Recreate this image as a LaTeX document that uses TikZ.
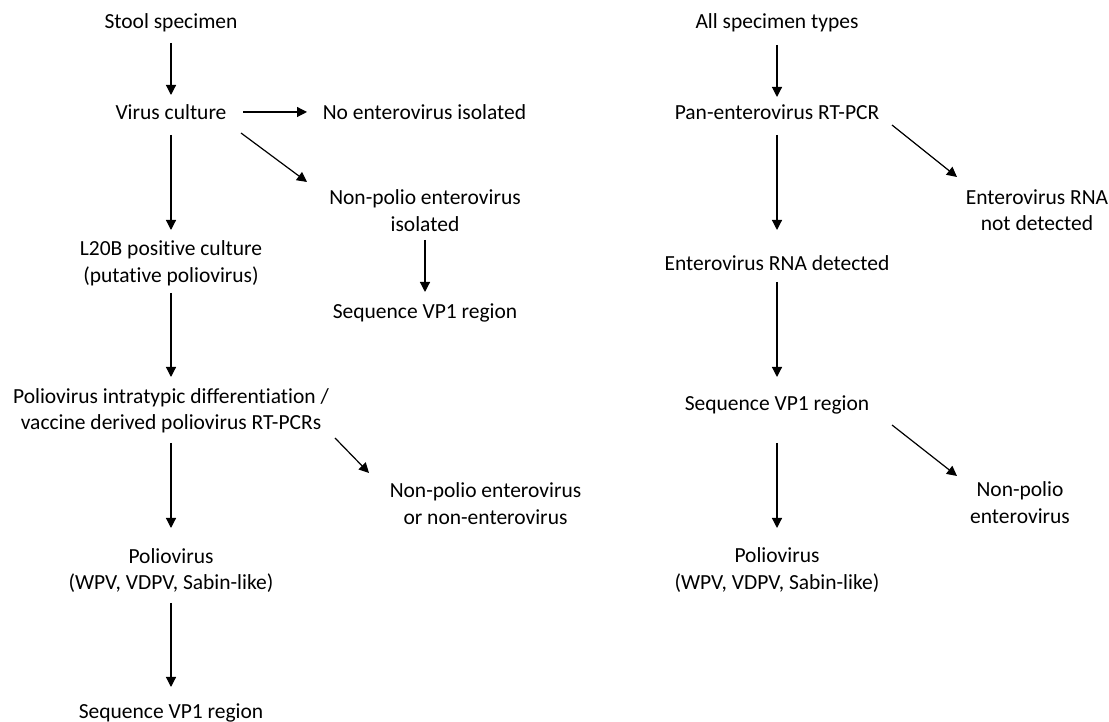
\documentclass[tikz,border=0pt]{standalone}
\usepackage{fontspec}
\setmainfont{Carlito}[Ligatures=NoCommon]
\usepackage{tikz}
\usetikzlibrary{arrows.meta}

\begin{document}
\begin{tikzpicture}[x=1pt,y=1pt,
  lbl/.style={align=center,inner sep=0pt,font=\fontsize{21.5}{26.5}\selectfont},
  arr/.style={line width=1.2pt,-{Triangle[length=10pt,width=10pt]}}]
\useasboundingbox (0,0) rectangle (1109,722);
% left column
\node[lbl] (stool) at (171,699) {Stool specimen};
\node[lbl] (virus) at (171,610) {Virus culture};
\node[lbl] (noev) at (424.5,610) {No enterovirus isolated};
\node[lbl] (npev) at (425,511.5) {Non-polio enterovirus\\isolated};
\node[lbl] (seqa) at (425,409) {Sequence VP1 region};
\node[lbl] (l20b) at (171,458.5) {L20B positive culture\\(putative poliovirus)};
\node[lbl] (pid) at (171,311) {Poliovirus intratypic differentiation /\\vaccine derived poliovirus RT-PCRs};
\node[lbl] (npne) at (485.5,218.5) {Non-polio enterovirus\\or non-enterovirus};
\node[lbl] (polioa) at (171,151.5) {Poliovirus\\(WPV, VDPV, Sabin-like)};
\node[lbl] (seqb) at (171,9) {Sequence VP1 region};
% right column
\node[lbl] (all) at (777,699) {All specimen types};
\node[lbl] (pan) at (777,610) {Pan-enterovirus RT-PCR};
\node[lbl] (notdet) at (1037,512) {Enterovirus RNA\\not detected};
\node[lbl] (det) at (777,459) {Enterovirus RNA detected};
\node[lbl] (seqc) at (777,317) {Sequence VP1 region};
\node[lbl] (nonpolio) at (1020,219.5) {Non-polio\\enterovirus};
\node[lbl] (poliob) at (777,152) {Poliovirus\\(WPV, VDPV, Sabin-like)};
% left arrows
\draw[arr,shorten <=20pt,shorten >=17pt] (stool.center) -- (virus.center);
\draw[arr,shorten <=72pt,shorten >=117.5pt] (virus.center) -- (noev.center);
\draw[arr] ([shift={(70,-21)}]virus.center) -- ([shift={(-118,28.5)}]npev.center);
\draw[arr,shorten <=23pt,shorten >=33.5pt] (virus.center) -- (l20b.center);
\draw[arr,shorten <=29.5pt,shorten >=21pt] (npev.center) -- (seqa.center);
\draw[arr,shorten <=29.5pt,shorten >=34pt] (l20b.center) -- (pid.center);
\draw[arr] ([shift={(164,-27)}]pid.center) -- ([shift={(-116.5,30.5)}]npne.center);
\draw[arr,shorten <=32pt,shorten >=42.5pt] (pid.center) -- (polioa.center);
\draw[arr,shorten <=32.5pt,shorten >=26pt] (polioa.center) -- (seqb.center);
% right arrows
\draw[arr,shorten <=22pt,shorten >=15pt] (all.center) -- (pan.center);
\draw[arr] ([shift={(115,-13)}]pan.center) -- ([shift={(-80,33)}]notdet.center);
\draw[arr,shorten <=23pt,shorten >=33pt] (pan.center) -- (det.center);
\draw[arr,shorten <=19pt,shorten >=28pt] (det.center) -- (seqc.center);
\draw[arr] ([shift={(115,-20)}]seqc.center) -- ([shift={(-63,26.5)}]nonpolio.center);
\draw[arr,shorten <=38pt,shorten >=42pt] (seqc.center) -- (poliob.center);
\end{tikzpicture}
\end{document}
